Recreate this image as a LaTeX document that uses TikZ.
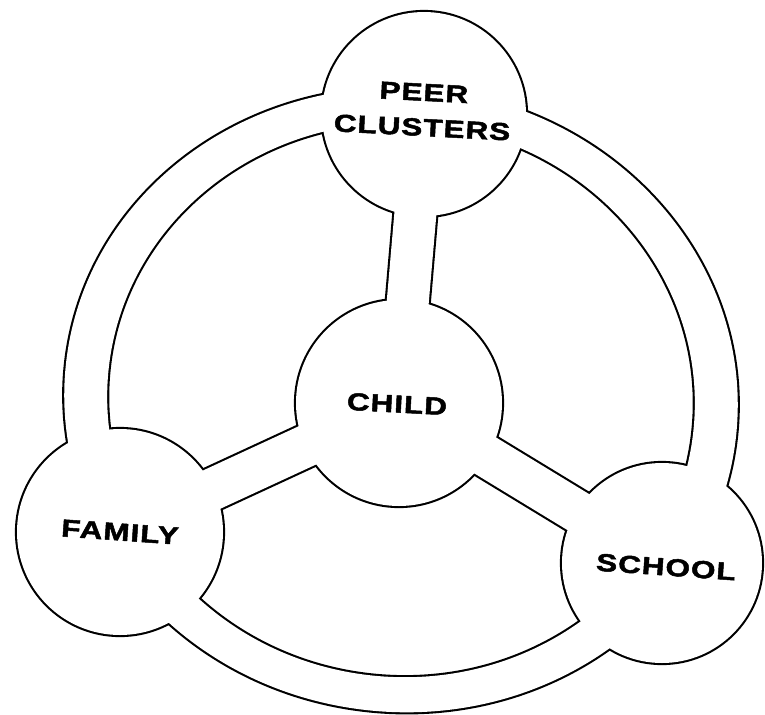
\documentclass[tikz,border=0pt]{standalone}
\usepackage{fontspec}
\newfontfamily\lbl{Liberation Sans}[FakeStretch=1.28,LetterSpace=4,FakeBold=2]
\begin{document}
\begin{tikzpicture}[x=0.3mm,y=-0.3mm,
  edge/.style={line width=3.6pt, black},
  ringtilt/.style={rotate around={-6:(ring)}},
  lbltext/.style={font=\lbl\bfseries\fontsize{21}{30}\selectfont, align=center, inner sep=0pt}]
\useasboundingbox (0,0) rectangle (765,715);
\coordinate (ring) at (401,400);
\coordinate (peer) at (424,114);
\coordinate (child) at (399,403);
\coordinate (family) at (120,532);
\coordinate (school) at (662,563);
% ---- black strokes (outline of the union) ----
\draw[edge, ringtilt] (ring) ellipse[x radius=337, y radius=312];
\draw[edge, ringtilt] (ring) ellipse[x radius=294, y radius=277];
\draw[edge] (peer) circle[radius=102];
\draw[edge] (child) circle[radius=103];
\draw[edge] (family) circle[radius=103];
\draw[edge] (school) circle[radius=100];
\draw[line width=12.6mm+3.6pt] (peer) -- (child);
\draw[line width=12.6mm+3.6pt] (family) -- (child);
\draw[line width=12.6mm+3.6pt] (school) -- (child);
% ---- white fills ----
\fill[white, even odd rule, ringtilt] (ring) ellipse[x radius=337, y radius=312]
  (ring) ellipse[x radius=294, y radius=277];
\fill[white] (peer) circle[radius=102];
\fill[white] (child) circle[radius=103];
\fill[white] (family) circle[radius=103];
\fill[white] (school) circle[radius=100];
\draw[white, line width=12.6mm] (peer) -- (child);
\draw[white, line width=12.6mm] (family) -- (child);
\draw[white, line width=12.6mm] (school) -- (child);
% ---- labels ----
\node[lbltext, rotate=-3] (peerlbl) at (423,110) {PEER\\CLUSTERS};
\node[lbltext, rotate=-3] (childlbl) at (397,404) {CHILD};
\node[lbltext, rotate=-4] (familylbl) at (120,532) {FAMILY};
\node[lbltext, rotate=-4] (schoollbl) at (666,567) {SCHOOL};
\end{tikzpicture}
\end{document}
